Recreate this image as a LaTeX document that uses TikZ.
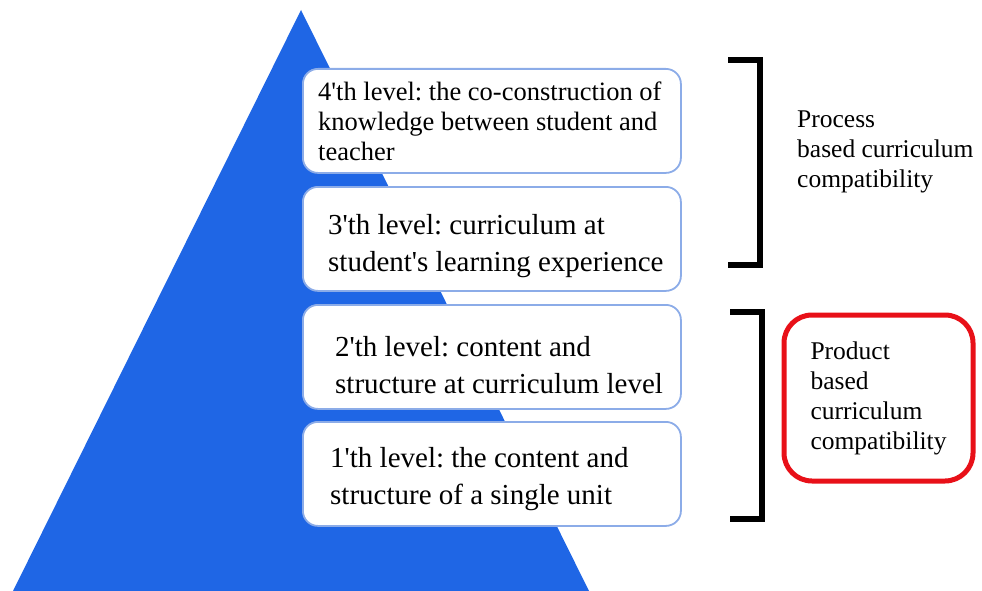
\documentclass[tikz,border=0pt]{standalone}
\usepackage{fontspec}
\setmainfont{Liberation Serif}
\usetikzlibrary{positioning}
\definecolor{pyrblue}{RGB}{31,102,229}
\definecolor{lvlline}{RGB}{140,172,232}
\definecolor{prodred}{RGB}{232,16,24}
\frenchspacing

\begin{document}
\begin{tikzpicture}[x=1pt,y=-1pt,
    lvl/.style={draw=lvlline,line width=1.8pt,fill=white,rounded corners=15pt,
        anchor=north west,minimum width=378pt,minimum height=104pt,inner sep=0pt},
    lvltext/.style={anchor=west,inner sep=0pt,align=left,
        font=\fontsize{29}{37}\selectfont},
    side/.style={inner sep=0pt,align=left,font=\fontsize{25.5}{30}\selectfont},
    brk/.style={line width=6pt,line cap=butt,line join=miter}]
        \useasboundingbox (0,0) rectangle (982,591);

        % pyramid
        \fill[pyrblue] (301,10) -- (589,591) -- (13,591) -- cycle;

        % the four levels
        \node[lvl] (l4) at (302,68) {};
        \node[lvl] (l3) at (302,186) {};
        \node[lvl] (l2) at (302,304) {};
        \node[lvl] (l1) at (302,421) {};

        \node[lvltext,font=\fontsize{26.5}{30}\selectfont,right=16pt of l4.west] (t4)
            {4\textquotesingle th level: the co-construction of\\knowledge between student and\\teacher};
        \node[lvltext,right=26pt of l3.west,yshift=-7pt] (t3)
            {3\textquotesingle th level: curriculum at\\student\textquotesingle s learning experience};
        \node[lvltext,right=33pt of l2.west,yshift=-8pt] (t2)
            {2\textquotesingle th level: content and\\structure at curriculum level};
        \node[lvltext,right=28pt of l1.west,yshift=-5pt] (t1)
            {1\textquotesingle th level: the content and\\structure of a single unit};

        % brackets
        \draw[brk] (728,60) -- (760,60) -- (760,265) -- (728,265);
        \draw[brk] (730,312) -- (762,312) -- (762,519) -- (730,519);

        \node[side,anchor=west] (proc) at (797,152)
            {Process\\based curriculum\\compatibility};
        \node[side,draw=prodred,line width=5pt,rounded corners=28pt,
            minimum width=189pt,minimum height=166pt] (prod) at (878.5,398)
            {Product\\based\\curriculum\\compatibility};
\end{tikzpicture}
\end{document}
